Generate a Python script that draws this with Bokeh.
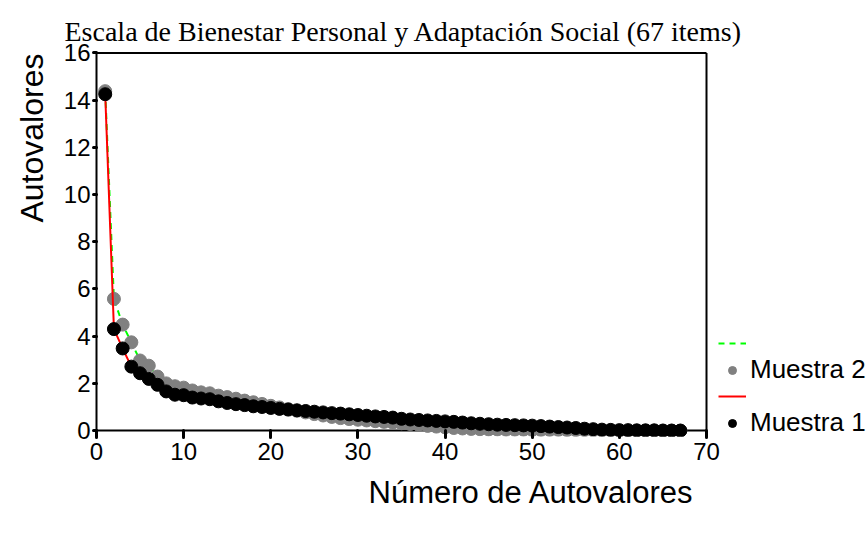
from bokeh.plotting import figure
from bokeh.models import Range1d, Legend, LegendItem, FixedTicker, Title
from bokeh.embed import file_html
from bokeh.resources import INLINE

title_text = "Escala de Bienestar Personal y Adaptación Social (67 items)"
x_label = "Número de Autovalores"
y_label = "Autovalores"
series_names = ["Muestra 2", "Muestra 1"]

items = list(range(1, 68))
muestra1 = [14.25, 4.30, 3.48, 2.71, 2.43, 2.19, 1.94, 1.66, 1.52, 1.50,
            1.40, 1.36, 1.33, 1.24, 1.17, 1.12, 1.08, 1.03, 1.00, 0.96,
            0.92, 0.89, 0.86, 0.83, 0.80, 0.77, 0.74, 0.72, 0.69, 0.66,
            0.63, 0.60, 0.58, 0.55, 0.50, 0.47, 0.45, 0.43, 0.41, 0.39,
            0.37, 0.34, 0.31, 0.29, 0.27, 0.25, 0.24, 0.23, 0.22, 0.21,
            0.19, 0.17, 0.15, 0.13, 0.11, 0.08, 0.06, 0.04, 0.03, 0.02,
            0.02, 0.01, 0.01, 0.01, 0.00, 0.00, 0.00]
muestra2 = [14.38, 5.58, 4.49, 3.74, 2.97, 2.75, 2.29, 2.00, 1.88, 1.82,
            1.70, 1.62, 1.58, 1.48, 1.42, 1.35, 1.27, 1.20, 1.13, 1.05,
            0.98, 0.91, 0.84, 0.77, 0.70, 0.64, 0.58, 0.53, 0.49, 0.46,
            0.43, 0.40, 0.37, 0.34, 0.31, 0.28, 0.24, 0.20, 0.17, 0.14,
            0.11, 0.09, 0.07, 0.06, 0.05, 0.05, 0.04, 0.04, 0.04, 0.03,
            0.03, 0.03, 0.03, 0.02, 0.02, 0.02, 0.01, 0.01, 0.01, 0.00,
            0.00, 0.00, 0.00, 0.00, 0.00, 0.00, 0.00]

x_ticks = [0, 10, 20, 30, 40, 50, 60, 70]
y_ticks = [0, 2, 4, 6, 8, 10, 12, 14, 16]

X_MIN, X_MAX = 0, 70
Y_MIN, Y_MAX = 0, 16
# view extents: a little room below zero and above 16, and room right of 70 for the legend
X_VIEW_MAX = 88.36
Y_VIEW_MIN, Y_VIEW_MAX = -0.25, 16.06

p = figure(width=866, height=534, output_backend="svg", toolbar_location=None,
           x_range=Range1d(X_MIN, X_VIEW_MAX), y_range=Range1d(Y_VIEW_MIN, Y_VIEW_MAX),
           min_border_left=96, min_border_right=0, min_border_top=51,
           min_border_bottom=98)
p.background_fill_color = "white"
p.border_fill_color = "white"
p.outline_line_color = None
p.grid.visible = False

p.title = Title(text=title_text, text_font="Liberation Serif", text_font_size="28px",
                text_font_style="normal", align="left", offset=-32, text_color="black")

for ax in (p.xaxis[0], p.yaxis[0]):
    ax.major_tick_line_width = 3
    ax.major_tick_line_cap = "round"
    ax.minor_tick_line_color = None
    ax.major_label_text_font = "Liberation Sans"
    ax.major_label_text_font_size = "24px"
    ax.major_label_text_color = "black"

p.xaxis.ticker = FixedTicker(ticks=x_ticks)
p.yaxis.ticker = FixedTicker(ticks=y_ticks)
p.xaxis.axis_line_color = None
p.xaxis.major_tick_in = 6
p.xaxis.major_tick_out = 1
p.xaxis.major_label_standoff = 5
p.yaxis.axis_line_width = 2
p.yaxis.axis_line_color = "black"
p.yaxis.bounds = (Y_MIN, Y_MAX)
p.yaxis.major_tick_in = 0
p.yaxis.major_tick_out = 3
p.yaxis.major_label_standoff = 3

# frame: x axis line at zero, top edge at 16 and right edge at 70
p.segment(x0=[X_MIN, X_MIN, X_MAX], y0=[Y_MIN, Y_MAX, Y_MIN],
          x1=[X_MAX, X_MAX, X_MAX], y1=[Y_MIN, Y_MAX, Y_MAX],
          line_color="black", line_width=2)

g_line = p.line(items, muestra2, line_color="#00ff00", line_width=2, line_dash="6 5")
g_pts = p.scatter(items, muestra2, size=13, fill_color="#808080", line_color="#808080")
r_line = p.line(items, muestra1, line_color="#ff0000", line_width=2)
b_pts = p.scatter(items, muestra1, size=13, fill_color="black", line_color="black")

legend = Legend(items=[LegendItem(label=" ", renderers=[g_line]),
                       LegendItem(label=series_names[0], renderers=[g_pts]),
                       LegendItem(label=" ", renderers=[r_line]),
                       LegendItem(label=series_names[1], renderers=[b_pts])],
                location=(622, -2), background_fill_alpha=0, border_line_color=None,
                label_text_font="Liberation Sans", label_text_font_size="26px",
                label_text_color="black",
                glyph_width=28, glyph_height=20, label_standoff=4, spacing=0,
                padding=0, margin=0, label_height=22)
p.add_layout(legend, "center")

p.add_layout(Title(text=x_label, text_font="Liberation Sans", text_font_size="31px",
                   text_font_style="normal", text_color="black", align="left",
                   offset=272, standoff=20),
             "below")
p.add_layout(Title(text=y_label, text_font="Liberation Sans", text_font_size="32px",
                   text_font_style="normal", text_color="black", align="left",
                   offset=214, standoff=21),
             "left")

open("out.html", "w").write(file_html(p, INLINE))
